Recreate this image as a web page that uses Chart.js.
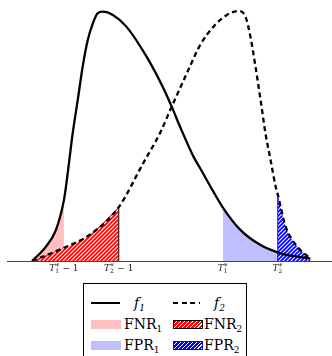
<!DOCTYPE html>
<html>
<head>
<meta charset="utf-8">
<script src="https://cdn.jsdelivr.net/npm/chart.js@4.4.1/dist/chart.umd.min.js"></script>
<style>
  body { margin: 0; background: #fff; width: 332px; height: 356px; overflow: hidden; position: relative; }
  #wrap { position: absolute; left: 0; top: 0; }
  #legend { position: absolute; left: 83px; top: 283px; width: 164px; height: 90px; border: 1px solid #000; box-sizing: border-box;
            font-family: "DejaVu Serif", serif; font-size: 14px; color: #000; }
  #legend div { position: absolute; }
  .txt { line-height: 14px; white-space: nowrap; }
  .txt sub { font-size: 9px; vertical-align: -3px; }
</style>
</head>
<body>
<div id="wrap"><canvas id="chart" width="332" height="282"></canvas></div>
<div id="legend">
  <div style="left:7px;top:18px;width:29px;height:2.4px;background:#000"></div>
  <div class="txt" style="left:50px;top:12px;font-style:italic">f<sub>1</sub></div>
  <div style="left:89px;top:18px;width:27px;height:2.4px;background:repeating-linear-gradient(to right,#000 0 5px,transparent 5px 8.5px)"></div>
  <div class="txt" style="left:130px;top:12px;font-style:italic">f<sub>2</sub></div>

  <div style="left:7px;top:36px;width:30px;height:9px;background:#ffbfbf"></div>
  <div class="txt" style="left:40px;top:33px">FNR<sub>1</sub></div>
  <div style="left:89px;top:36px;width:30px;height:9px;box-sizing:border-box;border:1px solid #000;background:repeating-linear-gradient(135deg,#f00 0 1.6px,#fff 1.6px 2.8px)"></div>
  <div class="txt" style="left:120px;top:33px">FNR<sub>2</sub></div>

  <div style="left:7px;top:57px;width:30px;height:9px;background:#bfbfff"></div>
  <div class="txt" style="left:40px;top:54px">FPR<sub>1</sub></div>
  <div style="left:89px;top:57px;width:30px;height:9px;box-sizing:border-box;border:1px solid #00f;background:repeating-linear-gradient(135deg,#00f 0 1.6px,#fff 1.6px 2.8px)"></div>
  <div class="txt" style="left:120px;top:54px">FPR<sub>2</sub></div>
</div>
<script>
// f1 (solid) and f2 (dashed)
const f1X = [0, 0.087, 0.15, 0.2, 0.213, 0.234, 0.255, 0.287, 0.318, 0.35, 0.382, 0.413, 0.445, 0.508, 0.593, 0.72, 0.825, 0.878, 0.93, 1.015, 1.057, 1.141, 1.2, 1.31, 1.437, 1.563, 1.75];
const f1Y = [0, 0.058, 0.125, 0.245, 0.299, 0.406, 0.513, 0.648, 0.782, 0.889, 0.956, 0.997, 1.003, 0.99, 0.943, 0.822, 0.696, 0.621, 0.541, 0.42, 0.373, 0.278, 0.215, 0.125, 0.064, 0.031, 0.01];
const f2X = [0, 0.192, 0.361, 0.545, 0.698, 0.804, 0.878, 0.983, 1.057, 1.141, 1.225, 1.299, 1.342, 1.373, 1.405, 1.437, 1.468, 1.5, 1.532, 1.545, 1.595, 1.668, 1.75];
const f2Y = [0, 0.051, 0.105, 0.217, 0.393, 0.514, 0.621, 0.769, 0.869, 0.943, 0.99, 1.006, 0.983, 0.903, 0.782, 0.648, 0.513, 0.406, 0.299, 0.268, 0.138, 0.058, 0.01];

const T1 = 1.2, T2 = 1.545;
const tickValues = [T1 - 1, T2 - 1, T1, T2];
// subscript and suffix for each T label
const tickSubs = ["1", "2", "1", "2"];
const tickSuffix = [" \u2212 1", " \u2212 1", "", ""];

const pts = (xs, ys) => xs.map((x, i) => ({ x: x, y: ys[i] }));
const f1 = pts(f1X, f1Y), f2 = pts(f2X, f2Y);
const between = (arr, a, b) => arr.filter(p => p.x >= a - 1e-9 && p.x <= b + 1e-9);
const at = (arr, x) => arr.find(p => Math.abs(p.x - x) < 1e-9).y;

function hatch(bg) {
  const c = document.createElement("canvas");
  c.width = 4; c.height = 4;
  const g = c.getContext("2d");
  g.fillStyle = bg; g.fillRect(0, 0, 4, 4);
  g.strokeStyle = "#fff"; g.lineWidth = 1.1;
  g.beginPath();
  g.moveTo(-1, 5); g.lineTo(5, -1);
  g.moveTo(-1, 1); g.lineTo(1, -1);
  g.moveTo(3, 5); g.lineTo(5, 3);
  g.stroke();
  return g.createPattern(c, "repeat");
}

// T labels with italic T and stacked sub/superscript
const tLabels = {
  id: "tLabels",
  afterDraw(chart) {
    const g = chart.ctx, sx = chart.scales.x;
    const y = sx.bottom + 10;
    g.save();
    g.fillStyle = "#222";
    g.textBaseline = "alphabetic";
    tickValues.forEach((v, i) => {
      g.font = "italic 9px 'DejaVu Serif'";
      const wT = g.measureText("T").width;
      g.font = "6px 'DejaVu Serif'";
      const wS = g.measureText(tickSubs[i]).width + 0.5;
      g.font = "9px 'DejaVu Serif'";
      const wR = g.measureText(tickSuffix[i]).width;
      let x = sx.getPixelForValue(v) - (wT + wS + wR) / 2;
      g.font = "italic 9px 'DejaVu Serif'";
      g.fillText("T", x, y); x += wT;
      g.font = "6px 'DejaVu Serif'";
      g.fillText(tickSubs[i], x, y + 2);
      g.font = "8px 'DejaVu Serif'";
      g.fillText("*", x, y - 2.5); x += wS;
      g.font = "9px 'DejaVu Serif'";
      g.fillText(tickSuffix[i], x, y);
    });
    g.restore();
  }
};

const ctx = document.getElementById("chart").getContext("2d");
const curve = { pointRadius: 0, cubicInterpolationMode: "monotone", fill: false };

new Chart(ctx, {
  type: "line",
  data: {
    datasets: [
      Object.assign({ data: f1, borderColor: "#000", borderWidth: 2.3 }, curve),
      Object.assign({ data: f2, borderColor: "#000", borderWidth: 2.3, borderDash: [5, 3.5] }, curve),
      Object.assign({ data: [{ x: T2 - 1, y: 0 }, { x: T2 - 1, y: at(f2, T2 - 1) }], borderColor: "#000", borderWidth: 1 }, curve),
      Object.assign({ data: [{ x: T2, y: 0 }, { x: T2, y: at(f2, T2) }], borderColor: "#00f", borderWidth: 1 }, curve),
      Object.assign({}, curve, { data: between(f2, 0, T2 - 1), borderWidth: 0, fill: "origin", backgroundColor: hatch("#f00") }),
      Object.assign({}, curve, { data: between(f2, T2, 2), borderWidth: 0, fill: "origin", backgroundColor: hatch("#00f") }),
      Object.assign({}, curve, { data: between(f1, 0, T1 - 1), borderWidth: 0, fill: "origin", backgroundColor: "#ffbfbf" }),
      Object.assign({}, curve, { data: between(f1, T1, 2), borderWidth: 0, fill: "origin", backgroundColor: "#bfbfff" })
    ]
  },
  options: {
    responsive: false,
    animation: false,
    devicePixelRatio: 1,
    layout: { padding: { left: 7, right: 1, top: 5, bottom: 21 } },
    plugins: { legend: { display: false }, tooltip: { enabled: false } },
    scales: {
      x: {
        type: "linear", min: -0.158, max: 1.88,
        grid: { display: false, drawTicks: false },
        border: { display: true, color: "#444", width: 1 },
        ticks: { display: false }
      },
      y: { display: false, min: 0, max: 1.03 }
    }
  },
  plugins: [tLabels]
});
</script>
</body>
</html>
